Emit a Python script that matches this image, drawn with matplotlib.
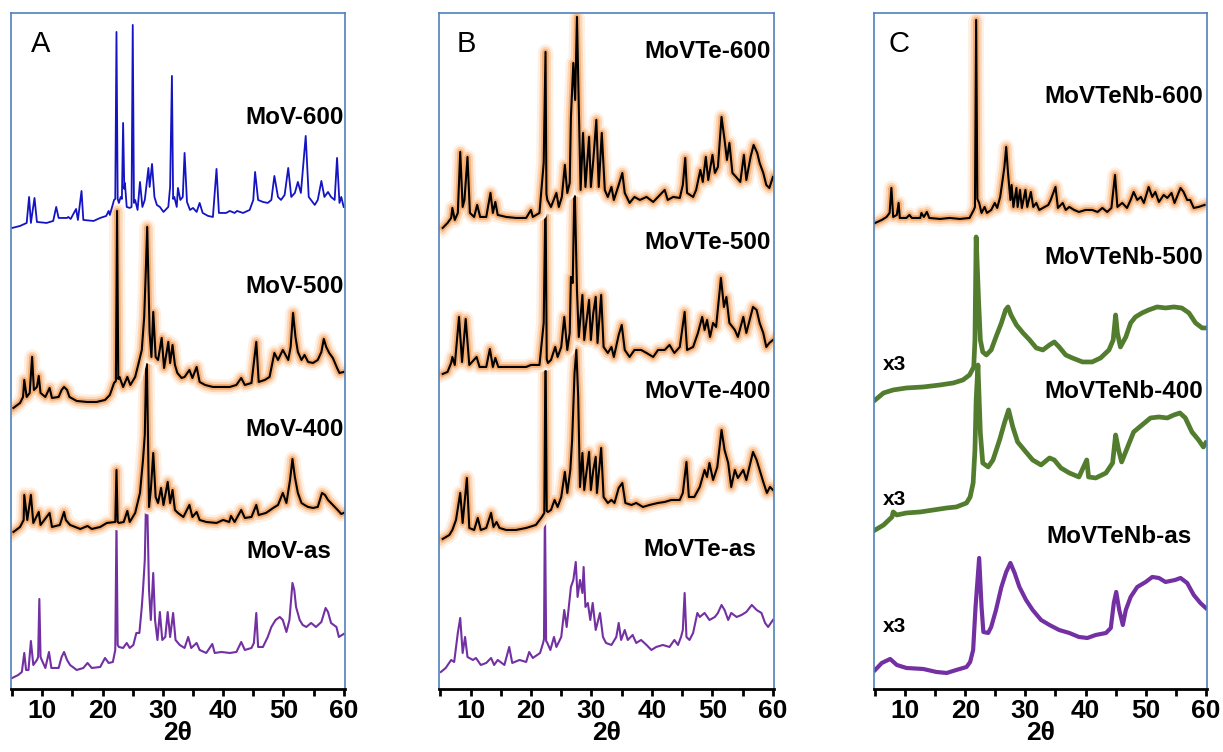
import matplotlib.pyplot as plt
import matplotlib.patheffects as pe
from matplotlib.ticker import MultipleLocator

# ---- panel A: MoV ----
mov600_tt = [5.0, 6.3, 7.4, 7.8, 8.1, 8.7, 9.1, 10.7, 11.8, 12.3, 12.7, 14.1, 14.3, 14.7, 15.6, 15.9, 16.5, 16.8,
             18.5, 19.6, 20.6, 21.0, 21.2, 21.9, 22.1, 22.3, 22.5, 22.7, 23.0, 23.2, 23.4, 23.6, 23.7, 24.0, 24.5,
             24.8, 25.0, 25.2, 25.4, 25.8, 26.2, 26.6, 27.0, 27.6, 27.8, 28.2, 28.6, 29.0, 29.5, 30.1, 30.9, 31.2,
             31.5, 31.7, 31.9, 32.3, 32.5, 32.9, 33.3, 33.6, 34.0, 34.5, 35.0, 35.6, 36.1, 36.6, 37.5, 38.3, 38.9,
             39.3, 40.5, 41.1, 41.9, 42.3, 43.3, 44.4, 45.0, 45.3, 45.8, 46.6, 47.4, 48.0, 48.5, 49.1, 49.6, 50.2,
             50.8, 51.3, 51.9, 52.4, 52.9, 53.7, 54.2, 55.2, 55.7, 56.3, 56.8, 57.4, 57.9, 58.5, 58.9, 59.3, 59.6,
             60.0]
mov600_cps = [11, 13, 16, 42, 16, 41, 17, 16, 18, 32, 21, 21, 22, 20, 30, 19, 48, 19,
              18, 21, 23, 28, 24, 39, 40, 207, 40, 36, 42, 40, 116, 50, 56, 32, 31,
              32, 214, 36, 39, 29, 57, 32, 39, 71, 52, 75, 42, 34, 32, 27, 32, 52,
              163, 40, 42, 32, 51, 39, 42, 86, 37, 29, 31, 27, 36, 26, 23, 22, 70,
              26, 26, 28, 26, 28, 26, 29, 39, 67, 39, 37, 36, 39, 63, 42, 39, 44,
              71, 42, 46, 57, 46, 103, 42, 34, 39, 58, 42, 47, 42, 39, 81, 36, 42,
              32]

mov500_tt = [5.2, 6.3, 6.8, 7.0, 7.4, 7.9, 8.3, 8.6, 9.1, 9.4, 9.7, 10.5, 11.2, 11.6, 12.7, 13.2, 13.6, 14.1,
             14.5, 15.7, 17.4, 19.0, 20.4, 21.2, 21.9, 22.2, 22.4, 22.6, 22.8, 23.4, 24.1, 24.6, 25.4, 25.9,
             26.5, 26.9, 27.1, 27.4, 27.8, 28.1, 28.4, 28.8, 29.2, 29.8, 30.2, 30.9, 31.2, 31.6, 32.0, 32.4,
             33.1, 33.6, 34.4, 34.9, 35.6, 36.1, 37.0, 38.3, 39.4, 41.1, 42.2, 43.0, 43.6, 44.7, 45.5, 45.9,
             46.9, 47.7, 48.5, 49.1, 49.9, 50.8, 51.2, 51.6, 52.0, 52.4, 53.0, 53.5, 54.1, 54.9, 55.7, 56.3,
             56.7, 57.1, 57.6, 58.2, 58.9, 59.3, 60.0]
mov500_cps = [11, 16, 22, 39, 22, 26, 62, 29, 32, 43, 26, 22, 31, 21, 22, 29, 32, 29,
              22, 18, 17, 17, 19, 24, 36, 38, 208, 40, 42, 32, 42, 34, 42, 54,
              69, 102, 136, 192, 86, 62, 107, 62, 59, 81, 51, 77, 56, 74, 54, 46,
              41, 42, 49, 41, 52, 37, 34, 32, 32, 32, 34, 41, 34, 36, 77, 37,
              39, 42, 66, 59, 69, 59, 72, 106, 82, 67, 59, 64, 57, 56, 59, 67,
              80, 72, 66, 61, 51, 46, 47]

mov400_tt = [5.2, 6.3, 6.9, 7.0, 7.5, 8.1, 8.5, 9.4, 9.7, 11.2, 11.6, 12.9, 13.6, 13.9, 14.6, 16.3, 17.5, 18.2,
             19.6, 20.7, 22.1, 22.3, 22.5, 22.7, 23.5, 24.1, 24.5, 25.4, 26.2, 26.7, 27.0, 27.3, 27.7, 28.0,
             28.4, 28.8, 29.2, 29.7, 30.1, 30.8, 31.2, 31.6, 32.0, 32.5, 33.4, 34.4, 34.9, 35.6, 36.1, 37.2,
             38.9, 40.0, 41.0, 41.3, 41.9, 43.0, 43.6, 44.7, 45.5, 45.9, 47.1, 48.3, 49.1, 49.9, 50.5, 51.1,
             51.5, 51.9, 52.4, 53.0, 53.5, 54.1, 54.9, 55.7, 56.4, 56.9, 57.4, 58.2, 59.0, 59.6, 60.0]
mov400_cps = [27, 32, 39, 64, 39, 64, 36, 47, 34, 46, 32, 34, 47, 39, 34, 30, 33, 30,
              32, 36, 37, 89, 37, 36, 37, 48, 37, 46, 66, 99, 124, 215, 52, 69,
              106, 62, 56, 71, 54, 77, 56, 69, 49, 46, 42, 54, 42, 47, 39, 37,
              36, 39, 37, 43, 37, 49, 41, 42, 54, 44, 46, 51, 54, 66, 56, 79,
              100, 82, 66, 56, 54, 52, 51, 52, 66, 64, 59, 54, 49, 45, 46]

movas_tt = [5.0, 6.0, 6.6, 7.0, 7.3, 7.7, 8.1, 8.5, 9.1, 9.3, 9.5, 9.7, 9.9, 10.5, 11.1, 11.5, 12.7, 13.2, 13.6,
            14.1, 14.6, 15.7, 16.8, 17.5, 18.2, 19.6, 20.4, 21.0, 21.7, 22.1, 22.3, 22.5, 22.7, 23.4, 24.0, 24.5,
            25.1, 25.6, 26.1, 26.5, 26.7, 27.0, 27.3, 27.7, 28.0, 28.4, 28.7, 29.1, 29.5, 29.9, 30.4, 30.8,
            31.2, 31.7, 32.1, 32.8, 33.6, 34.2, 34.7, 35.6, 36.1, 37.2, 38.2, 38.6, 39.7, 41.1, 42.2, 43.0,
            43.6, 44.7, 45.1, 45.5, 45.8, 46.6, 47.4, 48.0, 48.7, 49.4, 49.9, 50.5, 51.0, 51.5, 51.8, 52.1,
            52.7, 53.2, 53.8, 54.6, 55.4, 56.3, 57.0, 57.4, 57.9, 58.8, 59.2, 60.0]
movas_cps = [11, 14, 17, 36, 19, 19, 48, 24, 29, 32, 90, 32, 29, 21, 37, 21, 21, 32, 37,
             29, 24, 19, 21, 26, 21, 22, 31, 26, 27, 39, 166, 44, 42, 41, 46, 41,
             44, 56, 56, 82, 99, 129, 216, 99, 69, 116, 69, 49, 77, 49, 52, 77,
             52, 76, 49, 44, 41, 52, 41, 46, 39, 36, 45, 36, 37, 36, 37, 47,
             39, 41, 46, 76, 42, 42, 52, 62, 69, 72, 69, 57, 69, 106, 99, 82,
             69, 64, 62, 66, 62, 67, 81, 77, 66, 62, 52, 55]

# ---- panel B: MoVTe ----
movte600_tt = [5.4, 6.2, 6.8, 7.0, 7.4, 7.9, 8.3, 8.7, 9.0, 9.5, 9.9, 10.6, 11.1, 11.6, 12.6, 13.3, 13.7, 14.1,
               14.5, 15.9, 17.5, 19.2, 20.0, 20.3, 21.4, 22.1, 22.4, 22.55, 22.7, 23.3, 24.2, 24.6, 25.1, 25.6,
               26.0, 26.4, 26.6, 27.0, 27.3, 27.6, 27.9, 28.2, 28.6, 29.0, 29.6, 29.9, 30.3, 30.8, 31.2, 31.7,
               32.2, 32.7, 33.3, 33.7, 34.5, 35.1, 35.5, 36.3, 37.1, 38.0, 39.1, 40.2, 41.0, 42.1, 42.6, 43.5,
               44.6, 45.1, 45.5, 45.8, 46.8, 47.3, 48.0, 48.4, 48.9, 49.3, 50.0, 50.4, 50.9, 51.5, 52.0, 52.4,
               52.8, 53.3, 53.9, 54.6, 55.2, 55.6, 56.3, 56.8, 57.4, 57.8, 58.4, 58.9, 59.4, 60.0]
movte600_cps = [11, 16, 21, 31, 19, 26, 87, 32, 39, 82, 26, 22, 34, 22, 22, 46, 26, 37,
                24, 22, 21, 21, 29, 22, 26, 76, 187, 45, 39, 32, 46, 32, 42, 74,
                46, 56, 122, 176, 139, 222, 132, 49, 106, 52, 102, 52, 79, 119, 52, 106,
                49, 42, 52, 39, 54, 66, 46, 36, 42, 39, 42, 37, 42, 49, 39, 42,
                41, 54, 81, 46, 42, 49, 69, 57, 82, 59, 84, 66, 72, 122, 99, 79,
                96, 66, 62, 57, 84, 59, 82, 94, 86, 76, 66, 54, 51, 62]

movte500_tt = [5.4, 6.2, 6.8, 7.0, 7.4, 8.1, 8.6, 9.2, 9.8, 11.0, 11.5, 12.6, 13.2, 13.7, 14.1, 14.6, 15.9, 17.5,
               19.2, 20.0, 21.4, 22.1, 22.4, 22.6, 22.8, 23.3, 24.0, 24.4, 25.0, 25.5, 26.0, 26.4, 26.6, 26.9,
               27.2, 27.6, 27.9, 28.5, 28.8, 29.6, 29.9, 30.3, 30.7, 31.0, 31.6, 32.0, 32.7, 33.3, 33.7, 34.5,
               35.0, 35.5, 36.3, 37.1, 38.2, 39.1, 40.2, 41.0, 42.1, 42.9, 43.7, 44.6, 45.4, 45.8, 46.8, 47.6,
               48.3, 48.7, 49.1, 49.6, 50.1, 50.6, 51.4, 51.9, 52.3, 52.8, 53.7, 54.2, 55.1, 55.6, 56.7, 57.3,
               57.8, 58.4, 58.9, 59.4, 60.0]
movte500_cps = [15, 17, 26, 32, 24, 72, 27, 70, 24, 32, 22, 22, 40, 22, 31, 22, 22, 22,
                22, 24, 24, 66, 196, 30, 26, 29, 42, 32, 42, 72, 39, 56, 112, 106,
                209, 99, 52, 94, 49, 89, 49, 76, 92, 46, 94, 42, 36, 42, 32, 54,
                64, 39, 32, 39, 39, 36, 32, 39, 39, 44, 36, 42, 77, 39, 42, 56,
                72, 59, 69, 52, 66, 62, 111, 82, 92, 66, 59, 52, 72, 56, 82, 79,
                66, 56, 42, 46, 49]

movte400_tt = [5.4, 6.5, 7.0, 7.6, 8.3, 8.7, 9.4, 9.8, 10.6, 11.2, 11.7, 12.6, 13.4, 13.8, 14.3, 14.8, 15.9, 17.5,
               19.2, 20.8, 21.8, 22.2, 22.4, 22.6, 22.8, 23.3, 23.9, 24.4, 25.0, 25.6, 26.0, 26.5, 26.8, 27.2,
               27.5, 27.8, 28.1, 28.5, 28.8, 29.6, 29.9, 30.3, 30.7, 30.9, 31.6, 32.0, 32.7, 33.3, 33.8, 34.5,
               35.1, 35.6, 36.6, 37.4, 38.5, 39.6, 41.0, 42.1, 43.2, 44.6, 45.1, 45.7, 46.1, 47.0, 47.9, 48.7,
               49.1, 49.5, 50.1, 50.8, 51.5, 52.0, 52.6, 53.1, 53.7, 54.2, 55.1, 55.6, 56.7, 57.3, 57.8, 58.4,
               59.0, 59.5, 60.0]
movte400_cps = [0, 4, 9, 19, 46, 16, 61, 11, 9, 21, 9, 11, 26, 12, 17, 11, 9, 9,
                11, 14, 22, 26, 195, 28, 27, 29, 39, 32, 42, 67, 46, 69, 99, 166,
                189, 142, 52, 86, 49, 87, 49, 69, 82, 46, 91, 42, 36, 39, 36, 51,
                56, 36, 34, 36, 32, 34, 36, 37, 39, 39, 46, 77, 42, 42, 52, 69,
                62, 76, 59, 72, 109, 89, 76, 52, 69, 61, 69, 59, 87, 79, 69, 57,
                46, 52, 49]

movteas_tt = [5.1, 5.9, 6.8, 7.3, 7.9, 8.3, 8.7, 9.1, 9.5, 10.4, 10.9, 11.7, 12.6, 13.4, 13.9, 14.5, 15.6, 16.4,
              16.9, 18.1, 19.2, 19.7, 20.3, 21.5, 22.0, 22.15, 22.3, 22.5, 22.7, 23.2, 23.8, 24.2, 25.0, 25.5,
              25.9, 26.6, 27.0, 27.4, 27.7, 28.1, 28.5, 28.7, 29.0, 29.4, 29.8, 30.2, 30.7, 31.4, 31.9, 32.4,
              33.3, 34.1, 34.5, 34.9, 35.5, 36.0, 36.8, 37.4, 38.2, 39.1, 39.9, 40.7, 41.8, 42.9, 43.7, 44.3,
              44.8, 45.1, 45.4, 45.7, 46.2, 46.8, 47.5, 47.9, 48.7, 49.5, 50.4, 50.9, 51.5, 52.0, 52.6, 53.1,
              54.0, 54.8, 55.6, 56.5, 57.3, 58.1, 58.7, 59.2, 60.0]
movteas_cps = [17, 21, 29, 27, 56, 71, 36, 52, 32, 29, 31, 24, 26, 31, 24, 29, 24, 42,
               26, 29, 27, 37, 31, 36, 46, 50, 185, 48, 46, 39, 52, 42, 52, 79,
               62, 102, 109, 127, 92, 109, 96, 122, 82, 86, 69, 86, 59, 76, 52, 46,
               44, 52, 66, 49, 59, 49, 54, 46, 49, 44, 39, 42, 44, 42, 49, 44,
               52, 59, 96, 52, 49, 56, 76, 72, 76, 69, 72, 76, 84, 79, 69, 76,
               72, 74, 77, 84, 79, 76, 66, 62, 69]

# ---- panel C: MoVTeNb ----
movtenb600_tt = [5.0, 6.1, 6.9, 7.4, 7.7, 8.0, 8.6, 8.9, 9.1, 10.2, 10.7, 11.1, 12.5, 12.7, 13.1, 13.6, 14.0, 15.8,
                 17.4, 19.1, 20.7, 21.4, 21.6, 21.8, 22.0, 22.3, 22.7, 23.2, 23.6, 24.3, 24.9, 25.3, 25.8, 26.2,
                 26.5, 26.8, 27.1, 27.5, 27.7, 28.0, 28.5, 28.7, 29.1, 29.4, 30.0, 30.3, 30.9, 31.3, 31.8, 32.3,
                 33.2, 33.8, 34.2, 35.0, 35.4, 36.2, 36.7, 37.3, 38.1, 38.9, 40.0, 41.1, 42.0, 42.8, 43.6, 44.3,
                 44.9, 45.3, 46.1, 46.9, 47.5, 48.0, 48.6, 49.2, 49.7, 50.5, 51.1, 51.6, 52.2, 53.0, 53.6, 54.3,
                 54.8, 55.8, 56.3, 56.9, 57.4, 58.0, 58.8, 59.8]
movtenb600_cps = [16, 19, 22, 26, 51, 22, 24, 36, 21, 21, 24, 21, 21, 26, 22, 27, 21, 20,
                  21, 20, 21, 29, 32, 219, 40, 36, 26, 32, 26, 29, 36, 31, 42, 59,
                  72, 92, 66, 39, 54, 32, 51, 32, 49, 31, 49, 32, 47, 32, 36, 29,
                  32, 34, 39, 52, 31, 36, 29, 32, 29, 27, 29, 29, 27, 31, 27, 31,
                  64, 32, 36, 31, 39, 47, 39, 42, 36, 52, 42, 47, 37, 44, 41, 46,
                  36, 51, 47, 39, 39, 31, 32, 34]

movtenb500_tt = [5.0, 6.4, 8.0, 10.2, 13.0, 15.8, 18.0, 19.6, 20.7, 21.4, 21.6, 21.8, 22.2, 22.5, 22.9, 23.5, 24.3,
                 25.1, 26.0, 26.7, 27.1, 27.6, 28.5, 29.6, 30.7, 31.8, 32.9, 34.0, 34.8, 35.6, 36.7, 37.8, 39.5,
                 41.1, 42.5, 43.9, 44.6, 45.0, 45.3, 45.8, 46.7, 47.5, 48.3, 49.4, 50.5, 51.9, 53.3, 54.7, 56.0,
                 57.2, 58.3, 59.4, 60.0]
movtenb500_cps = [9, 16, 19, 21, 22, 24, 26, 29, 34, 42, 69, 172, 109, 69, 57, 54, 59,
                  72, 86, 99, 102, 94, 84, 76, 69, 61, 59, 64, 67, 62, 54, 51, 47,
                  47, 51, 59, 69, 94, 76, 62, 72, 86, 92, 96, 99, 102, 101, 102, 101,
                  96, 86, 81, 81]

movtenb400_tt = [5.0, 6.4, 7.8, 8.0, 8.6, 10.2, 12.5, 14.7, 16.9, 18.5, 20.2, 20.8, 21.3, 21.6, 21.8, 22.1, 22.5,
                 22.9, 23.8, 24.6, 25.7, 26.5, 27.2, 27.9, 28.7, 29.8, 31.2, 32.6, 34.0, 34.8, 35.9, 37.3, 38.9,
                 40.2, 40.5, 41.7, 43.4, 44.5, 45.0, 45.5, 46.0, 47.0, 48.0, 49.4, 50.8, 52.2, 53.6, 54.7, 55.7,
                 56.6, 57.7, 58.8, 59.6, 60.0]
movtenb400_cps = [9, 14, 22, 27, 24, 26, 27, 29, 31, 32, 36, 42, 56, 89, 139, 174, 106,
                  76, 72, 79, 99, 116, 129, 112, 97, 89, 79, 74, 81, 79, 71, 66, 62,
                  79, 62, 61, 66, 76, 104, 89, 77, 92, 107, 114, 121, 122, 121, 124, 126,
                  121, 107, 99, 92, 96]

movtenbas_tt = [5.0, 6.1, 7.5, 8.6, 10.2, 13.0, 15.2, 16.9, 18.5, 20.2, 20.8, 21.3, 21.7, 22.3, 22.7, 23.0, 23.8,
                24.3, 25.1, 26.0, 26.8, 27.5, 28.2, 29.0, 30.1, 31.2, 32.6, 34.0, 35.6, 37.3, 38.9, 40.3, 41.7,
                43.4, 44.2, 44.7, 45.1, 45.6, 46.2, 46.7, 47.5, 48.6, 50.0, 51.1, 52.2, 53.3, 54.9, 55.8, 56.9,
                58.0, 59.1, 60.0]
movtenbas_cps = [19, 26, 30, 24, 21, 20, 17, 16, 19, 22, 27, 39, 82, 131, 82, 57, 56,
                 62, 79, 102, 117, 126, 116, 102, 89, 79, 69, 64, 59, 56, 52, 51, 54,
                 56, 61, 86, 97, 79, 64, 79, 92, 102, 107, 112, 111, 107, 109, 111, 106,
                 94, 86, 81]

# vertical stacking offsets (a.u.)
offsets_a = [450, 270, 130, 0]
offsets_b = [450, 300, 150, 0]
offsets_c = [450, 280, 150, 0]

tick_vals = [10, 20, 30, 40, 50, 60]
tick_text = ['10', '20', '30', '40', '50', '60']

BLUE = '#1414c4'
PURPLE = '#7330a2'
GREEN = '#537d2e'
FRAME = '#4f81bd'

glow = [pe.Stroke(linewidth=11, foreground='#fff0e4'),
        pe.Stroke(linewidth=7.5, foreground='#fcd6b6'),
        pe.Stroke(linewidth=4.2, foreground='#f6ad72'),
        pe.Normal()]


def trace(ax, tt, cps, offset, color, lw=1.5, halo=False):
    y = [c + offset for c in cps]
    ax.plot(tt, y, color=color, lw=lw, solid_joinstyle='round',
            path_effects=glow if halo else None)


plt.rcParams['font.family'] = ['Liberation Sans', 'DejaVu Sans']

fig = plt.figure(figsize=(12.23, 7.52), dpi=100)
ax_a = fig.add_axes([0.009, 0.0838, 0.273, 0.899])
ax_b = fig.add_axes([0.359, 0.0838, 0.274, 0.899])
ax_c = fig.add_axes([0.7146, 0.0838, 0.2723, 0.899])

# panel A
trace(ax_a, movas_tt, movas_cps, offsets_a[3], PURPLE)
trace(ax_a, mov400_tt, mov400_cps, offsets_a[2], 'black', halo=True)
trace(ax_a, mov500_tt, mov500_cps, offsets_a[1], 'black', halo=True)
trace(ax_a, mov600_tt, mov600_cps, offsets_a[0], BLUE, lw=1.3)

# panel B
trace(ax_b, movteas_tt, movteas_cps, offsets_b[3], PURPLE)
trace(ax_b, movte400_tt, movte400_cps, offsets_b[2], 'black', halo=True)
trace(ax_b, movte500_tt, movte500_cps, offsets_b[1], 'black', halo=True)
trace(ax_b, movte600_tt, movte600_cps, offsets_b[0], 'black', halo=True)

# panel C
trace(ax_c, movtenbas_tt, movtenbas_cps, offsets_c[3], PURPLE, lw=3.0)
trace(ax_c, movtenb400_tt, movtenb400_cps, offsets_c[2], GREEN, lw=3.4)
trace(ax_c, movtenb500_tt, movtenb500_cps, offsets_c[1], GREEN, lw=3.4)
trace(ax_c, movtenb600_tt, movtenb600_cps, offsets_c[0], 'black', halo=True)

for ax, letter, lx in [(ax_a, 'A', 0.06), (ax_b, 'B', 0.051), (ax_c, 'C', 0.045)]:
    ax.set_xlim(4.8, 60.2)
    ax.set_ylim(0, 676)
    ax.set_yticks([])
    ax.set_xticks(tick_vals, tick_text, fontsize=19, fontweight='bold')
    ax.xaxis.set_minor_locator(MultipleLocator(5))
    ax.tick_params(axis='x', which='both', direction='out', length=5, width=2, color='black', pad=2)
    for side in ['left', 'right', 'top']:
        ax.spines[side].set_color(FRAME)
        ax.spines[side].set_linewidth(1.2)
    ax.spines['bottom'].set_color('black')
    ax.spines['bottom'].set_linewidth(2)
    ax.set_xlabel('2θ', fontsize=19, fontweight='bold', labelpad=-1)
    ax.text(lx, 0.954, letter, transform=ax.transAxes, fontsize=21,
            ha='left', va='center')

lbl = dict(ha='right', va='center', fontsize=17.5, fontweight='bold')
ax_a.text(60, 571, 'MoV-600', **lbl)
ax_a.text(60, 402, 'MoV-500', **lbl)
ax_a.text(60, 259, 'MoV-400', **lbl)
ax_a.text(58, 137, 'MoV-as', **lbl)

ax_b.text(59.6, 637, 'MoVTe-600', **lbl)
ax_b.text(59.6, 446, 'MoVTe-500', **lbl)
ax_b.text(59.6, 297, 'MoVTe-400', **lbl)
ax_b.text(57.3, 139, 'MoVTe-as', **lbl)

ax_c.text(59.6, 592, 'MoVTeNb-600', **lbl)
ax_c.text(59.6, 431, 'MoVTeNb-500', **lbl)
ax_c.text(59.6, 297, 'MoVTeNb-400', **lbl)
ax_c.text(57.6, 152, 'MoVTeNb-as', **lbl)

x3 = dict(ha='left', va='center', fontsize=15, fontweight='bold')
ax_c.text(6.3, 324, 'x3', **x3)
ax_c.text(6.3, 189, 'x3', **x3)
ax_c.text(6.3, 62, 'x3', **x3)

fig.savefig('out.png', dpi=100)
